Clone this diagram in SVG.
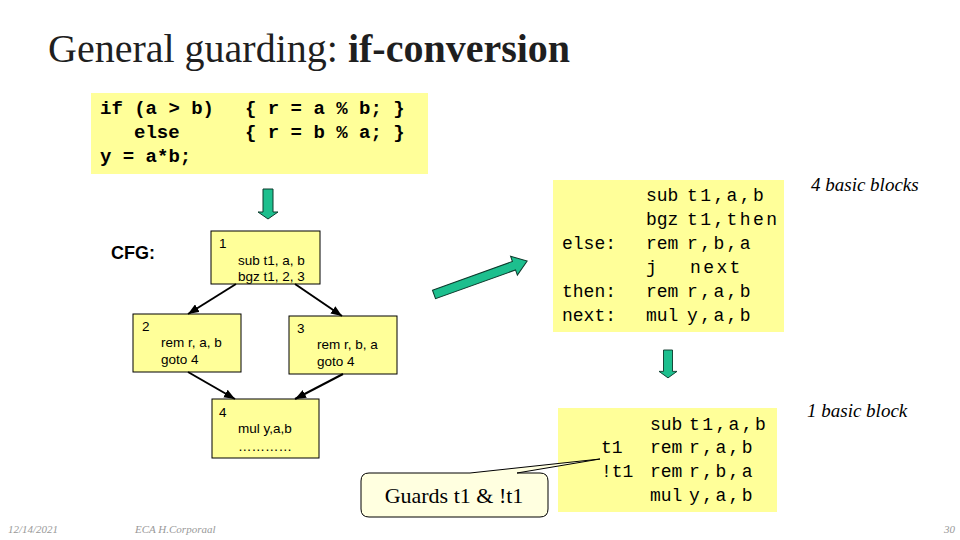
<svg xmlns="http://www.w3.org/2000/svg" width="960" height="540" viewBox="0 0 960 540">
<style>
.title{font-family:"Liberation Serif","Times New Roman",serif;font-size:40px;fill:#1f1f1f}
.mono{font-family:"Liberation Mono","Courier New",monospace;font-size:18px;fill:#000}
.monob{font-family:"Liberation Mono","Courier New",monospace;font-size:19px;font-weight:bold;fill:#000}
.ops{letter-spacing:2.4px}
.box{fill:#FFFF99;stroke:none}
.blk{fill:#FFFF99;stroke:#000;stroke-width:1}
.bt{font-family:"Liberation Sans",Arial,sans-serif;font-size:13.5px;fill:#000}
.note{font-family:"Liberation Serif","Times New Roman",serif;font-style:italic;font-size:19px;fill:#000}
.foot{font-family:"Liberation Serif","Times New Roman",serif;font-style:italic;font-size:11px;fill:#999}
.garrow{fill:#1DBF8E;stroke:#0d3a2c;stroke-width:1}
.edge{stroke:#000;stroke-width:2;fill:none;marker-end:url(#ah)}
</style>
<defs>
<marker id="ah" markerUnits="userSpaceOnUse" viewBox="0 0 10 8" refX="10" refY="4" markerWidth="11" markerHeight="9" orient="auto">
<path d="M0,0 L10,4 L0,8 z" fill="#000"/>
</marker>
<path id="downArrow" d="M-5,0 L5,0 L5,23 L10,23 L0,30 L-10,23 L-5,23 z"/>
</defs>
<rect width="960" height="540" fill="#fff"/>

<text class="title" x="48" y="62">General guarding: <tspan font-weight="bold">if-conversion</tspan></text>

<g id="source">
<rect class="box" x="91" y="93" width="337" height="81"/>
<text class="monob" x="100" y="114">if (a &gt; b)</text>
<text class="monob" x="245" y="114">{ r = a % b; }</text>
<text class="monob" x="134" y="138">else</text>
<text class="monob" x="245" y="138">{ r = b % a; }</text>
<text class="monob" x="100" y="162">y = a*b;</text>
</g>

<g id="arrow-down-1">
<use href="#downArrow" class="garrow" transform="translate(268,189)"/>
</g>

<text id="cfg-label" x="111" y="259" font-family="Liberation Sans,Arial,sans-serif" font-weight="bold" font-size="18">CFG:</text>

<g id="block1">
<rect class="blk" x="211" y="231" width="109" height="53"/>
<text class="bt" x="219" y="248">1</text>
<text class="bt" x="238" y="265">sub t1, a, b</text>
<text class="bt" x="238" y="281">bgz t1, 2, 3</text>
</g>
<g id="block2">
<rect class="blk" x="133" y="314" width="108" height="58"/>
<text class="bt" x="142" y="331">2</text>
<text class="bt" x="161" y="347">rem r, a, b</text>
<text class="bt" x="161" y="364">goto 4</text>
</g>
<g id="block3">
<rect class="blk" x="289" y="316" width="108" height="58"/>
<text class="bt" x="297" y="333">3</text>
<text class="bt" x="317" y="349">rem r, b, a</text>
<text class="bt" x="317" y="366">goto 4</text>
</g>
<g id="block4">
<rect class="blk" x="212" y="399" width="107" height="59"/>
<text class="bt" x="219" y="417">4</text>
<text class="bt" x="238" y="433">mul y,a,b</text>
<text class="bt" x="238" y="451">…………</text>
</g>

<g id="connectors">
<line class="edge" x1="236" y1="284" x2="188" y2="314"/>
<line class="edge" x1="295" y1="284" x2="342" y2="316"/>
<line class="edge" x1="188" y1="372" x2="235" y2="399"/>
<line class="edge" x1="343" y1="374" x2="295" y2="399"/>
</g>

<g id="arrow-diag">
<path class="garrow" transform="translate(434,294.5) rotate(-19.8)" d="M0,-4.5 L85,-4.5 L85,-10 L99,0 L85,10 L85,4.5 L0,4.5 z"/>
</g>

<g id="code4">
<rect class="box" x="553" y="180" width="231" height="152"/>
<text class="mono" x="646" y="201">sub</text><text class="mono ops" x="687" y="201">t1,a,b</text>
<text class="mono" x="646" y="225">bgz</text><text class="mono ops" x="687" y="225">t1,then</text>
<text class="mono" x="562" y="249">else:</text><text class="mono" x="646" y="249">rem</text><text class="mono ops" x="687" y="249">r,b,a</text>
<text class="mono" x="646" y="273">j</text><text class="mono ops" x="690" y="273">next</text>
<text class="mono" x="562" y="297">then:</text><text class="mono" x="646" y="297">rem</text><text class="mono ops" x="687" y="297">r,a,b</text>
<text class="mono" x="562" y="321">next:</text><text class="mono" x="646" y="321">mul</text><text class="mono ops" x="687" y="321">y,a,b</text>
</g>
<text id="note4" class="note" x="811" y="191">4 basic blocks</text>

<g id="arrow-down-2">
<use href="#downArrow" class="garrow" transform="translate(668,350) scale(0.9,0.93)"/>
</g>

<g id="code1">
<rect class="box" x="558" y="408" width="219" height="104"/>
<text class="mono" x="650" y="430">sub</text><text class="mono ops" x="689" y="430">t1,a,b</text>
<text class="mono" x="601" y="453">t1</text><text class="mono" x="650" y="453">rem</text><text class="mono ops" x="689" y="453">r,a,b</text>
<text class="mono" x="601" y="477">!t1</text><text class="mono" x="650" y="477">rem</text><text class="mono ops" x="689" y="477">r,b,a</text>
<text class="mono" x="650" y="501">mul</text><text class="mono ops" x="689" y="501">y,a,b</text>
</g>
<text id="note1" class="note" x="807" y="417">1 basic block</text>

<g id="callout">
<path d="M369,473 L470,473 L600,459 L517,473 L540,473 Q548,473 548,481 L548,509 Q548,517 540,517 L369,517 Q361,517 361,509 L361,481 Q361,473 369,473 z" fill="#FFFFE0" stroke="#000" stroke-width="1"/>
<text x="454" y="503" text-anchor="middle" font-family="Liberation Serif,Times New Roman,serif" font-size="22">Guards t1 &amp; !t1</text>
</g>

<text class="foot" x="8" y="533">12/14/2021</text>
<text class="foot" x="135" y="533">ECA  H.Corporaal</text>
<text class="foot" x="944" y="533">30</text>
</svg>
